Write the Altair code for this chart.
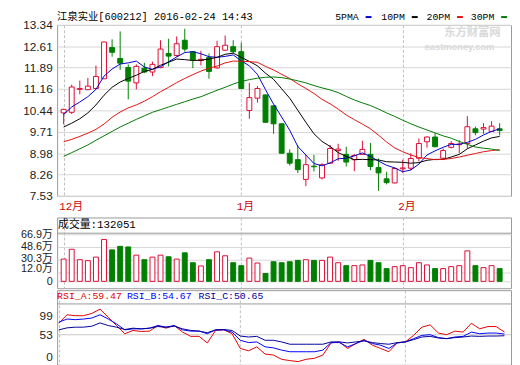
import altair as alt
import pandas as pd

# ---------------- data ----------------
day = list(range(1, 56))
open_px = [10.35, 10.37, 11.15, 11.14, 11.18, 11.51, 12.57, 12.20, 11.89, 11.37,
           11.87, 11.74, 11.89, 12.37, 12.30, 12.82, 12.43, 12.13, 12.23, 11.88,
           12.48, 12.60, 12.43, 10.43, 10.85, 10.96, 10.59, 9.98, 8.98, 8.76,
           8.09, 8.54, 8.14, 8.64, 9.07, 8.94, 8.76, 8.94, 8.94, 8.49,
           8.11, 7.97, 8.45, 8.47, 8.81, 9.37, 9.53, 8.81, 9.18, 9.27,
           9.31, 9.81, 9.80, 9.72, 9.81]
high_px = [10.49, 11.31, 11.45, 11.54, 11.96, 12.77, 12.85, 13.12, 12.00, 12.00,
           12.05, 12.09, 12.82, 12.87, 12.95, 13.21, 12.45, 12.46, 12.37, 12.80,
           12.98, 12.82, 12.74, 11.37, 11.26, 10.98, 10.61, 10.00, 9.11, 9.26,
           8.92, 8.92, 8.64, 9.26, 9.30, 9.20, 8.95, 9.40, 9.33, 8.80,
           8.35, 8.50, 8.76, 8.98, 9.48, 9.55, 9.66, 9.14, 9.39, 9.42,
           10.24, 9.88, 10.00, 10.07, 10.00]
low_px = [9.96, 10.31, 10.98, 11.12, 11.15, 11.50, 12.26, 11.81, 10.81, 11.15,
          11.70, 11.60, 11.87, 11.93, 12.26, 12.43, 11.87, 11.96, 11.51, 11.85,
          12.46, 12.37, 11.16, 10.15, 10.70, 10.01, 9.64, 8.96, 8.56, 8.31,
          7.86, 8.36, 8.09, 8.62, 8.72, 8.53, 8.37, 8.92, 8.40, 7.70,
          7.92, 7.95, 8.31, 8.40, 8.70, 9.17, 9.18, 8.76, 9.14, 8.98,
          9.14, 9.59, 9.64, 9.70, 9.58]
close_px = [10.47, 11.23, 11.18, 11.26, 11.59, 12.76, 12.41, 12.04, 11.43, 11.93,
            11.74, 12.00, 12.52, 12.28, 12.70, 12.52, 12.15, 12.17, 11.76, 12.60,
            12.65, 12.43, 11.18, 10.87, 11.18, 10.03, 9.98, 8.98, 8.64, 8.42,
            8.59, 8.52, 8.59, 9.14, 9.12, 8.68, 8.90, 9.11, 8.53, 8.31,
            7.98, 8.46, 8.48, 8.80, 9.31, 9.53, 9.20, 9.07, 9.31, 9.29,
            9.88, 9.68, 9.85, 9.90, 9.75]
volume_wan = [31.8, 45.8, 30.9, 29.5, 34.6, 59.8, 44.9, 50.0, 49.1, 37.4,
              30.9, 34.6, 37.4, 35.1, 31.8, 40.7, 26.6, 22.0, 30.9, 42.1,
              36.5, 26.6, 22.4, 33.2, 26.2, 11.2, 28.0, 26.6, 28.0, 29.9,
              30.9, 29.9, 29.9, 34.6, 26.6, 22.4, 22.4, 23.4, 29.9, 26.6,
              18.2, 21.0, 22.4, 19.6, 26.6, 23.4, 18.2, 18.2, 21.0, 22.4,
              43.5, 22.4, 19.6, 22.4, 18.2]
ma5 = [10.30, 10.55, 10.72, 10.90, 11.15, 11.60, 11.84, 12.01, 12.05, 12.11,
       11.91, 11.83, 11.92, 12.09, 12.25, 12.40, 12.43, 12.36, 12.26, 12.24,
       12.27, 12.32, 12.12, 11.95, 11.66, 11.14, 10.65, 10.21, 9.76, 9.21,
       8.92, 8.63, 8.55, 8.65, 8.79, 8.81, 8.89, 8.99, 8.87, 8.71,
       8.57, 8.48, 8.35, 8.41, 8.61, 8.92, 9.06, 9.18, 9.28, 9.28,
       9.35, 9.45, 9.60, 9.72, 9.81]
ma10 = [9.87, 10.00, 10.15, 10.35, 10.62, 10.95, 11.22, 11.40, 11.52, 11.63,
        11.76, 11.83, 11.97, 12.07, 12.18, 12.16, 12.13, 12.14, 12.18, 12.24,
        12.34, 12.38, 12.24, 12.10, 11.95, 11.70, 11.49, 11.17, 10.85, 10.44,
        10.03, 9.64, 9.38, 9.21, 9.00, 8.87, 8.76, 8.77, 8.76, 8.75,
        8.69, 8.68, 8.67, 8.64, 8.66, 8.74, 8.77, 8.77, 8.85, 8.94,
        9.13, 9.26, 9.39, 9.50, 9.55]
ma20 = [9.37, 9.45, 9.55, 9.66, 9.79, 9.97, 10.20, 10.38, 10.52, 10.62,
        10.75, 10.90, 11.07, 11.22, 11.38, 11.52, 11.65, 11.77, 11.87, 11.94,
        12.05, 12.11, 12.11, 12.09, 12.07, 11.93, 11.81, 11.66, 11.52, 11.34,
        11.18, 11.01, 10.81, 10.66, 10.48, 10.28, 10.12, 9.97, 9.81, 9.59,
        9.36, 9.16, 9.03, 8.92, 8.83, 8.80, 8.76, 8.77, 8.80, 8.85,
        8.91, 8.97, 9.03, 9.07, 9.10]
ma30 = [8.87, 9.00, 9.13, 9.26, 9.42, 9.57, 9.72, 9.87, 10.00, 10.13,
        10.25, 10.37, 10.46, 10.55, 10.64, 10.73, 10.82, 10.90, 11.01, 11.12,
        11.22, 11.33, 11.42, 11.48, 11.53, 11.56, 11.57, 11.55, 11.50, 11.44,
        11.37, 11.28, 11.20, 11.13, 11.04, 10.91, 10.79, 10.69, 10.60, 10.48,
        10.35, 10.23, 10.10, 9.98, 9.87, 9.77, 9.67, 9.57, 9.49, 9.38,
        9.28, 9.19, 9.15, 9.12, 9.07]
rsi_a = [80.3, 100.6, 98.3, 98.3, 103.7, 114.0, 94.4, 74.9, 55.4, 63.2,
         60.8, 61.6, 74.9, 68.7, 74.9, 59.3, 49.1, 49.1, 33.5, 63.2,
         64.8, 55.4, 20.3, 14.8, 24.2, 7.0, 4.7, -5.5, -8.6, -10.9,
         -5.5, -3.1, 4.7, 33.5, 35.9, 20.3, 32.0, 42.1, 28.1, 20.3,
         12.5, 33.5, 35.9, 51.5, 71.0, 76.5, 57.0, 53.1, 61.6, 59.3,
         80.3, 67.1, 72.5, 72.5, 59.47]
rsi_b = [82.6, 90.4, 88.9, 90.4, 92.7, 100.6, 90.4, 78.7, 64.6, 67.0,
         67.0, 68.6, 74.9, 71.0, 74.9, 64.6, 61.6, 61.6, 55.4, 64.6,
         64.6, 59.3, 39.8, 34.3, 35.9, 24.2, 21.8, 16.4, 12.5, 12.5,
         12.5, 12.5, 16.4, 34.3, 34.3, 24.2, 32.0, 39.8, 32.0, 28.1,
         20.3, 33.5, 35.9, 43.7, 51.5, 53.1, 46.1, 43.7, 47.6, 49.1,
         59.3, 55.4, 57.0, 57.0, 54.67]
rsi_c = [64.6, 69.4, 71.0, 71.0, 73.3, 81.2, 74.9, 71.0, 65.4, 68.6,
         67.0, 68.6, 72.5, 71.0, 73.3, 67.0, 63.2, 61.6, 57.8, 64.6,
         65.4, 63.2, 49.9, 47.6, 49.1, 39.8, 39.8, 35.9, 30.4, 30.4,
         30.4, 30.4, 30.4, 35.9, 35.9, 33.5, 35.9, 38.2, 34.3, 32.0,
         30.4, 34.3, 35.9, 41.3, 47.6, 49.1, 45.3, 43.7, 46.1, 47.6,
         49.9, 49.1, 49.9, 49.9, 50.65]

price_ticks = [7.53, 8.26, 8.98, 9.71, 10.44, 11.16, 11.89, 12.61, 13.34]
vol_ticks = [0, 12.0, 30.3, 48.6, 66.9]
rsi_ticks = [0, 53, 99]
month_pos = [1, 23, 43]
month_labels = ["12月", "1月", "2月"]

title_text = "江泉实业[600212] 2016-02-24 14:43"
ma_names = ["5PMA", "10PM", "20PM", "30PM"]
vol_title = "成交量:132051"
rsi_titles = ["RSI_A:59.47", "RSI_B:54.67", "RSI_C:50.65"]

for arr in [open_px, high_px, low_px, close_px, volume_wan, ma5, ma10, ma20, ma30, rsi_a, rsi_b, rsi_c]:
    assert len(arr) == 55, len(arr)

df = pd.DataFrame({
    "i": day, "open": open_px, "high": high_px, "low": low_px, "close": close_px,
    "vol": volume_wan, "ma5": ma5, "ma10": ma10, "ma20": ma20, "ma30": ma30,
    "rsi_a": rsi_a, "rsi_b": rsi_b, "rsi_c": rsi_c,
})
df["up"] = df["close"] >= df["open"]
one = pd.DataFrame({"n": [0]})

# ---------------- styles ----------------
UP = "#dd0a35"
DOWN = "#007f00"
MA_COLORS = ["#0000cc", "#000000", "#e01010", "#007800"]
RSI_COLORS = ["#e00000", "#0000ff", "#000099"]
HGRID = "#d6d6d6"
VGRID = "#c0c0c0"
FRAME = "#999999"
MIX = "Liberation Mono, Noto Sans CJK SC"
LABF = "Liberation Sans, Noto Sans CJK SC"
W = 462

month_expr = " : ".join(f"datum.value == {p} ? '{l}'" for p, l in zip(month_pos, month_labels)) + " : ''"

XS = alt.Scale(domain=[0.8, 55.8], nice=False, zero=False)
PS = alt.Scale(domain=[7.53, 13.34], nice=False, zero=False)
VS = alt.Scale(domain=[-9.82, 91.16], nice=False, zero=False)
RS = alt.Scale(domain=[-18.72, 159.1], nice=False, zero=False)


def yaxis(values, size=12, **kw):
    return alt.Axis(values=values, domain=False, ticks=False, labelFont=LABF, labelFontSize=size,
                    labelColor="#222222", labelPadding=5, labelOverlap=False, labelFlush=False,
                    minExtent=49, maxExtent=49, title=None, gridColor=HGRID, **kw)


price_axis = yaxis(price_ticks, format=".2f", grid=True)
vol_axis = yaxis(vol_ticks, size=11, grid=True,
                 labelExpr="datum.value == 0 ? '0' : format(datum.value, '.1f') + '万'",
                 labelOffset={"condition": [
                     {"test": "datum.value == 12", "value": -4},
                     {"test": "datum.value == 30.3", "value": -2},
                     {"test": "datum.value == 48.6", "value": -1},
                 ], "value": 0})
rsi_axis = yaxis(rsi_ticks, grid=False, format="d")

x_price_axis = alt.Axis(values=month_pos, labelExpr=month_expr, grid=True, gridDash=[3, 2],
                        gridColor=VGRID, ticks=False, domain=False, labelColor="#cc0000",
                        labelFont=MIX, labelFontSize=11, labelAlign="left", labelOffset=-5,
                        labelPadding=5, labelBaseline="top", labelFlush=False,
                        labelOverlap=False, minExtent=20, maxExtent=20, title=None)
x_plain_axis = alt.Axis(values=month_pos, labels=False, ticks=False, domain=False, grid=True,
                        gridDash=[3, 2], gridColor=VGRID, minExtent=0, maxExtent=0, title=None)

xp = alt.X("i:Q", scale=XS, axis=x_price_axis)
xq = alt.X("i:Q", scale=XS, axis=x_plain_axis)
up_fill = alt.condition("datum.up", alt.value("white"), alt.value(DOWN))
up_stroke = alt.condition("datum.up", alt.value(UP), alt.value(DOWN))


def txt(s, x, y, color="#000000", size=10.5, font=MIX, weight="normal"):
    return alt.Chart(one).mark_text(text=s, align="left", baseline="middle", font=font,
                                    fontSize=size, color=color, fontWeight=weight).encode(
        x=alt.value(x), y=alt.value(y))


def hline(y):
    return alt.Chart(one).mark_rule(color=FRAME, strokeWidth=1).encode(
        x=alt.value(0), x2=alt.value(W), y=alt.value(y))


# ---------------- price panel ----------------
wick = alt.Chart(df).mark_rule(strokeWidth=1).encode(
    x=xp, y=alt.Y("low:Q", scale=PS, axis=price_axis), y2="high:Q", color=up_stroke)
body = alt.Chart(df).mark_bar(size=5, strokeWidth=1).encode(
    x=xp, y=alt.Y("open:Q", scale=PS, axis=price_axis), y2="close:Q",
    fill=up_fill, stroke=up_stroke)
ma_lines = alt.Chart(df).transform_fold(["ma5", "ma10", "ma20", "ma30"], as_=["k", "v"]).mark_line(
    strokeWidth=1).encode(
    x=xp, y=alt.Y("v:Q", scale=PS, axis=price_axis),
    color=alt.Color("k:N", scale=alt.Scale(domain=["ma5", "ma10", "ma20", "ma30"], range=MA_COLORS),
                    legend=None))

legend_x = [283, 330, 376, 421]
legend_layers = []
for name, lx, col in zip(ma_names, legend_x, MA_COLORS):
    legend_layers.append(txt(name, lx, -8, size=10))
    legend_layers.append(alt.Chart(one).mark_rule(strokeWidth=2, color=col).encode(
        x=alt.value(lx + 31), x2=alt.value(lx + 37), y=alt.value(-8)))

watermark = [
    txt("东方财富网", 394, 8.5, color="#d9d9d9", size=11.5, font="Noto Sans CJK SC", weight="bold"),
    txt("eastmoney.com", 374, 23, color="#d9d9d9", size=9.5, font="Liberation Sans", weight="bold"),
]

price = alt.layer(wick, body, ma_lines, txt(title_text, 0, -8), *legend_layers, *watermark).properties(
    width=W, height=174)

# ---------------- volume panel ----------------
vbars = alt.Chart(df).mark_bar(size=5, strokeWidth=1).encode(
    x=xq, y=alt.Y("vol:Q", scale=VS, axis=vol_axis), y2=alt.datum(0),
    fill=up_fill, stroke=up_stroke)
volume = alt.layer(vbars, hline(16), txt(vol_title, 1, 7.5, size=11)).properties(width=W, height=72)

# ---------------- RSI panel ----------------
rsi_grid = alt.Chart(one).mark_rule(color="#c8c8c8", strokeWidth=1).encode(
    y=alt.Y(datum=53, scale=RS, axis=rsi_axis))
rsi_lines = alt.Chart(df).transform_fold(["rsi_a", "rsi_b", "rsi_c"], as_=["r", "rv"]).mark_line(
    strokeWidth=1).encode(
    x=xq, y=alt.Y("rv:Q", scale=RS, axis=rsi_axis),
    color=alt.Color("r:N", scale=alt.Scale(domain=["rsi_a", "rsi_b", "rsi_c"], range=RSI_COLORS),
                    legend=None))
rsi_text = [txt(t, x0, 6, color=c, size=10) for t, x0, c in zip(rsi_titles, [0, 71, 144], RSI_COLORS)]
rsi = alt.layer(rsi_grid, rsi_lines, hline(14), *rsi_text).properties(width=W, height=76)

chart = alt.vconcat(price, volume, rsi, spacing=0, padding=0).resolve_scale(
    x="independent", y="independent", color="independent").configure_view(
    stroke=FRAME, strokeWidth=1)

chart.save("out.html", embed_options={"renderer": "svg", "actions": False})
